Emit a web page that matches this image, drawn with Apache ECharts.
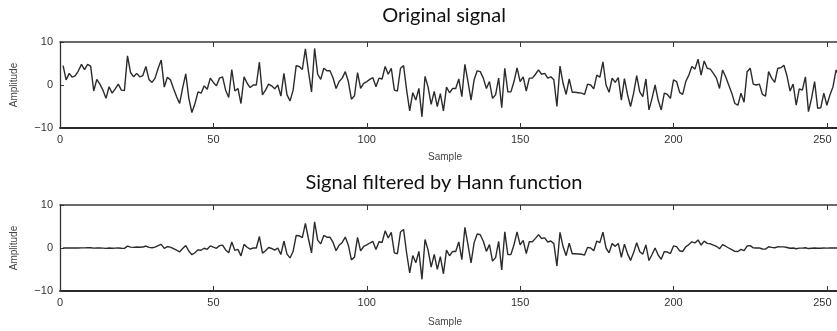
<!DOCTYPE html>
<html>
<head>
<meta charset="utf-8">
<script src="https://cdn.jsdelivr.net/npm/echarts@6/dist/echarts.min.js"></script>
<style>html,body{margin:0;padding:0;background:#fff;overflow:hidden}#c{width:837px;height:331px}</style>
</head>
<body>
<div id="c"></div>
<script>
// Sample index runs 1..256 (MATLAB style)
const original = [
4.5, 1.2, 2.7, 1.8, 2.2, 3.3, 4.8, 3.6, 4.8, 4.4,
-1.4, 1.3, 0.2, -1.2, -3.1, -0.4, -1.9, -0.9, 0.2, -1.2,
-1.3, 6.8, 2.9, 1.9, 2.7, 1.9, 2.2, 4.3, 1.3, 0.6,
1.6, 3.9, 5.8, -0.5, 1.8, 1.2, -0.8, -2.7, -4.3, -0.6,
2.6, -3.1, -6.4, -4.3, -1.6, -1.9, -0.2, -1.0, 1.6, 0.6,
-0.2, 1.6, 1.9, -1.2, -2.9, 3.6, -1.4, -0.8, -4.3, 1.9,
0.4, -0.6, 0.0, 0.0, 5.3, -2.3, -1.2, 0.2, -0.2, -0.9,
0.0, -2.6, 2.7, -2.3, -3.7, -1.2, 4.5, 4.3, 3.6, 8.4,
3.1, -1.6, 8.5, 2.5, 1.3, 3.9, 3.3, 3.3, 1.7, -0.8,
0.8, 1.6, 3.1, 0.8, -3.3, -2.5, 2.9, -0.8, 0.4, 0.8,
1.3, 1.7, -0.4, 1.6, 1.4, 4.3, 2.5, 3.9, -1.2, -1.4,
3.9, 4.5, -1.2, -6.0, -1.8, -3.5, -0.8, -7.4, 2.0, -0.5,
-4.5, -1.5, -5.0, -2.0, -6.0, -0.5, -1.8, -0.8, -0.8, 1.4,
-2.7, 4.8, 0.8, -3.5, 1.2, 3.3, 3.1, 1.6, -0.8, 0.8,
-3.1, -2.3, 1.6, -5.3, 3.9, -1.6, -1.6, 0.8, 4.0, 0.8,
1.9, -1.4, 1.6, 1.6, 2.5, 3.5, 2.5, 2.7, 1.6, 1.9,
1.2, -5.0, 4.4, 0.4, -2.2, 1.4, -1.7, -1.7, -1.8, -1.9,
-2.2, 0.2, 0.0, -0.9, 2.3, 1.8, 5.4, 0.0, -1.7, 1.6,
0.6, 1.7, -3.5, 1.5, -2.2, -5.0, -1.9, 2.2, -1.6, -2.7,
1.4, -5.8, -3.1, 0.0, -3.5, -5.8, -1.9, -2.2, -3.1, 1.2,
0.8, -1.7, -2.2, 0.8, 2.3, 4.3, 3.7, 6.0, 2.3, 5.6,
3.9, 3.7, 2.7, 1.6, -0.8, 3.5, 1.9, 0.0, -1.9, -4.3,
-4.7, -1.9, -4.0, 3.1, 3.9, 0.2, 0.0, 0.2, -2.2, -2.6,
3.1, 1.6, 0.6, 3.9, 4.0, 4.6, 2.1, -1.4, 0.2, -4.7,
-0.9, -1.2, 1.9, -6.2, -3.1, 0.8, -5.4, -5.3, -1.9, -4.7,
-2.3, -0.4, 3.5, 2.0, 0.5, 1.0
];

const filtered = [
0, 0, 0, 0, 0.01, 0.01, 0.03, 0.03, 0.05, 0.05,
-0.02, 0.02, 0, -0.03, -0.09, -0.01, -0.07, -0.04, 0.01, -0.06,
-0.08, 0.45, 0.21, 0.15, 0.23, 0.17, 0.22, 0.46, 0.15, 0.07,
0.21, 0.54, 0.85, -0.08, 0.30, 0.21, -0.15, -0.52, -0.88, -0.13,
0.58, -0.73, -1.56, -1.10, -0.43, -0.53, -0.06, -0.30, 0.50, 0.19,
-0.07, 0.55, 0.68, -0.44, -1.10, 1.41, -0.57, -0.33, -1.84, 0.84,
0.18, -0.28, 0, 0, 2.67, -1.19, -0.63, 0.11, -0.11, -0.51,
0, -1.53, 1.62, -1.41, -2.31, -0.76, 2.92, 2.84, 2.42, 5.74,
2.15, -1.13, 6.10, 1.82, 0.96, 2.93, 2.51, 2.54, 1.33, -0.63,
0.64, 1.30, 2.54, 0.66, -2.77, -2.12, 2.49, -0.69, 0.35, 0.71,
1.16, 1.53, -0.36, 1.46, 1.29, 3.98, 2.33, 3.65, -1.13, -1.33,
3.72, 4.32, -1.16, -5.81, -1.75, -3.42, -0.78, -7.28, 1.97, -0.49,
-4.46, -1.49, -4.98, -1.99, -5.99, -0.50, -1.80, -0.80, -0.80, 1.40,
-2.70, 4.79, 0.80, -3.49, 1.19, 3.27, 3.07, 1.58, -0.79, 0.78,
-3.03, -2.24, 1.55, -5.11, 3.74, -1.53, -1.52, 0.75, 3.75, 0.74,
1.76, -1.29, 1.46, 1.45, 2.24, 3.11, 2.21, 2.36, 1.39, 1.63,
1.02, -4.20, 3.65, 0.33, -1.78, 1.12, -1.34, -1.33, -1.39, -1.45,
-1.65, 0.15, 0, -0.65, 1.62, 1.25, 3.69, 0, -1.12, 1.04,
0.38, 1.06, -2.15, 0.90, -1.30, -2.88, -1.07, 1.21, -0.86, -1.43,
0.72, -2.92, -1.52, 0, -1.63, -2.63, -0.84, -0.94, -1.29, 0.49,
0.31, -0.65, -0.81, 0.29, 0.79, 1.44, 1.19, 1.87, 0.69, 1.61,
1.08, 0.98, 0.69, 0.39, -0.19, 0.78, 0.41, 0, -0.37, -0.79,
-0.82, -0.31, -0.62, 0.46, 0.54, 0.03, 0, 0.02, -0.23, -0.26,
0.29, 0.14, 0.05, 0.28, 0.26, 0.27, 0.11, -0.07, 0.01, -0.18,
-0.03, -0.04, 0.05, -0.13, -0.06, 0.01, -0.07, -0.05, -0.01, -0.03,
-0.01, 0, 0, 0, 0, 0
];

const xTickLabels = [0, 50, 100, 150, 200, 250];
const yTickLabels = [-10, 0, 10];
const titles = ['Original signal', 'Signal filtered by Hann function'];
const xName = 'Sample';
const yName = 'Amplitude';

const toPairs = arr => arr.map((v, i) => [i + 1, v]);

const chart = echarts.init(document.getElementById('c'), null, {renderer: 'canvas'});

const labelFont = {color: '#333', fontSize: 11, fontFamily: 'Liberation Sans, Arial, sans-serif'};

// visible x-range: the reference crops the plot just past sample 253
const X_MAX = 253.3;

function xAxisPair(gi) {
  const base = {
    gridIndex: gi, type: 'value', min: 0, max: X_MAX, interval: 50,
    splitLine: {show: false},
    axisLine: {show: true, onZero: false, lineStyle: {color: '#2a2a2a', width: 1.8}},
    axisTick: {show: true, inside: true, length: 5, lineStyle: {color: '#333', width: 1}}
  };
  return [
    Object.assign({}, base, {
      position: 'bottom',
      axisLabel: Object.assign({
        margin: 6,
        showMaxLabel: false,
        formatter: v => {
          if (xTickLabels.indexOf(v) < 0) return '';
          return v === xTickLabels[xTickLabels.length - 1] ? '{e|' + v + '}' : String(v);
        },
        rich: {e: {padding: [0, 9, 0, 0], color: '#333', fontSize: 11, fontFamily: 'Liberation Sans, Arial, sans-serif'}}
      }, labelFont)
    }),
    Object.assign({}, base, {
      position: 'top',
      axisLine: {show: true, onZero: false, lineStyle: {color: '#3a3a3a', width: 1.5}},
      axisLabel: {show: false}
    })
  ];
}

function yAxisOne(gi) {
  return {
    gridIndex: gi, type: 'value', min: -10, max: 10, interval: 10,
    splitLine: {show: false},
    axisLine: {show: true, onZero: false, lineStyle: {color: '#333', width: 1.3}},
    axisTick: {show: true, inside: true, length: 4, lineStyle: {color: '#333'}},
    axisLabel: Object.assign({
      margin: 7,
      formatter: v => (yTickLabels.indexOf(v) >= 0 ? String(v).replace('-', '\u2212') : '')
    }, labelFont)
  };
}

const option = {
  animation: false,
  backgroundColor: '#fff',
  grid: [
    {left: 60, right: 0, top: 42, height: 86, outerBoundsMode: 'none'},
    {left: 60, right: 0, top: 205, height: 86, outerBoundsMode: 'none'}
  ],
  xAxis: [].concat(xAxisPair(0), xAxisPair(1)),
  yAxis: [yAxisOne(0), yAxisOne(1)],
  series: [
    {type: 'line', xAxisIndex: 0, yAxisIndex: 0, data: toPairs(original),
     showSymbol: false, lineStyle: {color: '#2b2b2b', width: 1.4}},
    {type: 'line', xAxisIndex: 2, yAxisIndex: 1, data: toPairs(filtered),
     showSymbol: false, lineStyle: {color: '#2b2b2b', width: 1.4}}
  ],
  graphic: [
    {type: 'text', x: 444, y: 16, style: {text: titles[0], font: '20px Lato, "Open Sans", sans-serif', fill: '#111', align: 'center', verticalAlign: 'middle'}},
    {type: 'text', x: 444, y: 183, style: {text: titles[1], font: '20px Lato, "Open Sans", sans-serif', fill: '#111', align: 'center', verticalAlign: 'middle'}},
    {type: 'text', x: 445, y: 157, style: {text: xName, font: '10px "Liberation Sans", Arial, sans-serif', fill: '#444', align: 'center', verticalAlign: 'middle'}},
    {type: 'text', x: 445, y: 322, style: {text: xName, font: '10px "Liberation Sans", Arial, sans-serif', fill: '#444', align: 'center', verticalAlign: 'middle'}},
    {type: 'text', x: 14, y: 85, rotation: Math.PI / 2, style: {text: yName, font: '10px "Liberation Sans", Arial, sans-serif', fill: '#444', align: 'center', verticalAlign: 'middle'}},
    {type: 'text', x: 14, y: 248, rotation: Math.PI / 2, style: {text: yName, font: '10px "Liberation Sans", Arial, sans-serif', fill: '#444', align: 'center', verticalAlign: 'middle'}}
  ]
};

chart.setOption(option);
</script>
</body>
</html>
